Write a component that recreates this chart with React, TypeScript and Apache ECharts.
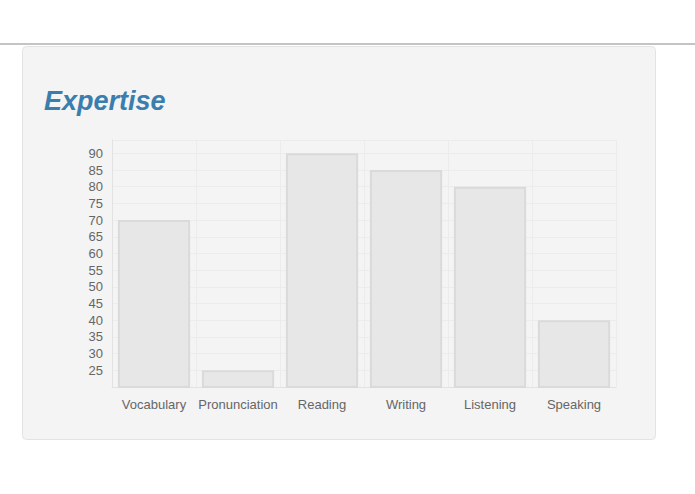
import React, { useEffect, useRef } from "react";
import * as echarts from "echarts";

const categories = ["Vocabulary", "Pronunciation", "Reading", "Writing", "Listening", "Speaking"];
const scores = [70, 25, 90, 85, 80, 40];
const yMin = 20;
const yMax = 94;
const yStep = 5;

export default function App() {
  const ref = useRef<HTMLDivElement>(null);
  useEffect(() => {
    if (!ref.current) return;
    const chart = echarts.init(ref.current, undefined, { renderer: "svg" });
    chart.setOption({
      animation: false,
      backgroundColor: "#ffffff",
      graphic: [
        {
          type: "line",
          shape: { x1: 0, y1: 44, x2: 695, y2: 44 },
          style: { stroke: "#c4c4c4", lineWidth: 2 },
          z: -10,
        },
        {
          type: "rect",
          shape: { x: 22.5, y: 46.5, width: 633, height: 393, r: 4 },
          style: { fill: "#f4f4f4", stroke: "#e3e3e3", lineWidth: 1 },
          z: -10,
        },
        {
          type: "text",
          x: 44,
          y: 87,
          style: {
            text: "Expertise",
            font: "italic bold 27px 'Liberation Sans', Arial, sans-serif",
            fill: "#3a7eae",
          },
        },
      ],
      grid: { left: 112, right: 79, top: 140, bottom: 107, containLabel: false },
      xAxis: {
        type: "category",
        data: categories,
        boundaryGap: true,
        axisLine: { show: true, lineStyle: { color: "#e2e2e2", width: 1 } },
        axisTick: { show: false },
        splitLine: { show: true, lineStyle: { color: "#ececec", width: 1 } },
        axisLabel: {
          color: "#666666",
          fontSize: 13,
          fontFamily: "'Liberation Sans', Arial, sans-serif",
          margin: 11,
          interval: 0,
        },
      },
      yAxis: {
        type: "value",
        min: yMin,
        max: yMax,
        interval: yStep,
        axisLine: { show: true, lineStyle: { color: "#e2e2e2", width: 1 } },
        axisTick: { show: false },
        splitLine: { show: true, lineStyle: { color: "#ececec", width: 1 } },
        axisLabel: {
          color: "#666666",
          fontSize: 13,
          fontFamily: "'Liberation Sans', Arial, sans-serif",
          margin: 9,
          formatter: (v: number) => (v === yMin || v > 90 ? "" : String(v)),
        },
      },
      series: [
        {
          type: "bar",
          data: scores,
          barCategoryGap: "14%",
          clip: true,
          itemStyle: { color: "#e7e7e7", borderColor: "#dadada", borderWidth: 2 },
        },
      ],
    });
    return () => chart.dispose();
  }, []);
  return (
    <div
      ref={ref}
      style={{ position: "fixed", left: 0, top: 0, width: 695, height: 494 }}
    />
  );
}
